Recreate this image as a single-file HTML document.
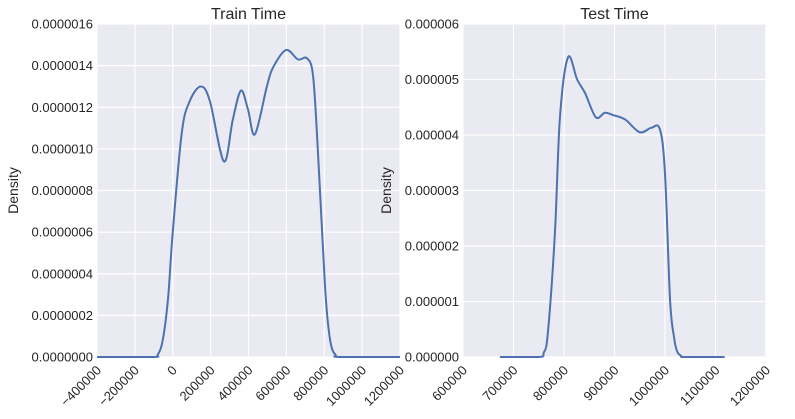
<!DOCTYPE html>
<html><head><meta charset="utf-8"><style>
body{margin:0;background:#fff;}
svg{display:block;font-family:"Liberation Sans",sans-serif;}
</style></head><body>
<svg id="c" width="795" height="419"></svg>
<script>
const trainX=[-400000,-106000,-80000,-53000,-25000,0,48000,90000,148000,196000,270000,317000,360000,397000,434000,497000,529000,598000,661000,709000,741000,767000,804000,825000,841000,860000,884000,1200000];
const trainY=[0,0,0.01,0.08,0.28,0.6,1.08,1.23,1.30,1.23,0.94,1.14,1.28,1.19,1.07,1.30,1.39,1.475,1.43,1.435,1.35,0.98,0.34,0.12,0.04,0.01,0,0];
const testX=[673000,750000,760000,768000,782000,792000,808000,826000,842000,863000,881000,897000,921000,950000,973000,990000,1000000,1010000,1018000,1024000,1032000,1040000,1118000];
const testY=[0,0,0.08,0.43,2.23,4.32,5.40,5.0,4.75,4.32,4.4,4.36,4.28,4.05,4.13,4.1,3.3,1.03,0.35,0.1,0.02,0,0];
const trainXTicks=[-400000,-200000,0,200000,400000,600000,800000,1000000,1200000];
const trainYTicks=[0,0.0000002,0.0000004,0.0000006,0.0000008,0.000001,0.0000012,0.0000014,0.0000016];
const trainYLabels=["0.0000000","0.0000002","0.0000004","0.0000006","0.0000008","0.0000010","0.0000012","0.0000014","0.0000016"];
const testXTicks=[600000,700000,800000,900000,1000000,1100000,1200000];
const testYTicks=[0,0.000001,0.000002,0.000003,0.000004,0.000005,0.000006];
const testYLabels=["0.000000","0.000001","0.000002","0.000003","0.000004","0.000005","0.000006"];
const NS="http://www.w3.org/2000/svg";
const svg=document.getElementById('c');
function mk(t,a,p){const e=document.createElementNS(NS,t);for(const k in a)e.setAttribute(k,a[k]);(p||svg).appendChild(e);return e;}
function panel(o){
  const g=mk('g',{});
  
  
  const sx=v=>o.x0+(v-o.xmin)/(o.xmax-o.xmin)*(o.x1-o.x0);
  const sy=v=>o.y1-(v-o.ymin)/(o.ymax-o.ymin)*(o.y1-o.y0);
  const bg=mk('rect',{x:o.x0,y:o.y0,width:o.x1-o.x0,height:o.y1-o.y0,fill:'#EAEAF2'},g);
  
  
  o.xt.forEach(v=>{mk('line',{x1:sx(v),x2:sx(v),y1:o.y0,y2:o.y1,stroke:'#fff','stroke-width':1.2},g);});
  o.yt.forEach(v=>{mk('line',{x1:o.x0,x2:o.x1,y1:sy(v),y2:sy(v),stroke:'#fff','stroke-width':1.2},g);});
  const pts=o.dx.map((v,i)=>[sx(v),sy(o.dy[i]*o.yscale)]);
  let d='M'+pts[0][0]+','+pts[0][1];
  for(let i=0;i<pts.length-1;i++){
    const p0=pts[Math.max(0,i-1)],p1=pts[i],p2=pts[i+1],p3=pts[Math.min(pts.length-1,i+2)];
    const c1=[p1[0]+(p2[0]-p0[0])/6,p1[1]+(p2[1]-p0[1])/6];
    const c2=[p2[0]-(p3[0]-p1[0])/6,p2[1]-(p3[1]-p1[1])/6];
    c1[1]=Math.min(c1[1],o.y1);c2[1]=Math.min(c2[1],o.y1);
    d+=` C${c1[0]},${c1[1]} ${c2[0]},${c2[1]} ${p2[0]},${p2[1]}`;
  }
  const path=mk('path',{d:d,fill:'none',stroke:'#4C72B0','stroke-width':2},g);
  
  
  o.yt.forEach((v,i)=>{const t=mk('text',{x:o.x0-4,y:sy(v)+4.5,'text-anchor':'end','font-size':13,fill:'#262626'},g);t.textContent=o.yl[i];
    
    });
  o.xt.forEach(v=>{const x=sx(v),y=o.y1+14;const t=mk('text',{x:x+5,y:y,'text-anchor':'end','font-size':13,fill:'#262626',transform:`rotate(-45 ${x+5} ${y})`},g);t.textContent=String(v).replace('-','\u2212');
    
    });
  const ti=mk('text',{x:(o.x0+o.x1)/2,y:19,'text-anchor':'middle','font-size':16,fill:'#262626'},g);ti.textContent=o.title;
  
  
  const yl=mk('text',{x:o.ylx,y:(o.y0+o.y1)/2,'text-anchor':'middle','font-size':14,fill:'#262626',transform:`rotate(-90 ${o.ylx} ${(o.y0+o.y1)/2})`},g);yl.textContent='Density';
  
  
}
panel({name:'train-time-panel',x0:97,x1:400,y0:24,y1:357,xmin:-400000,xmax:1200000,ymin:0,ymax:0.0000016,yscale:1e-6,xt:trainXTicks,yt:trainYTicks,yl:trainYLabels,dx:trainX,dy:trainY,title:'Train Time',ylx:18});
panel({name:'test-time-panel',x0:463,x1:766,y0:24,y1:357,xmin:600000,xmax:1200000,ymin:0,ymax:0.000006,yscale:1e-6,xt:testXTicks,yt:testYTicks,yl:testYLabels,dx:testX,dy:testY,title:'Test Time',ylx:391});
</script>
</body></html>
